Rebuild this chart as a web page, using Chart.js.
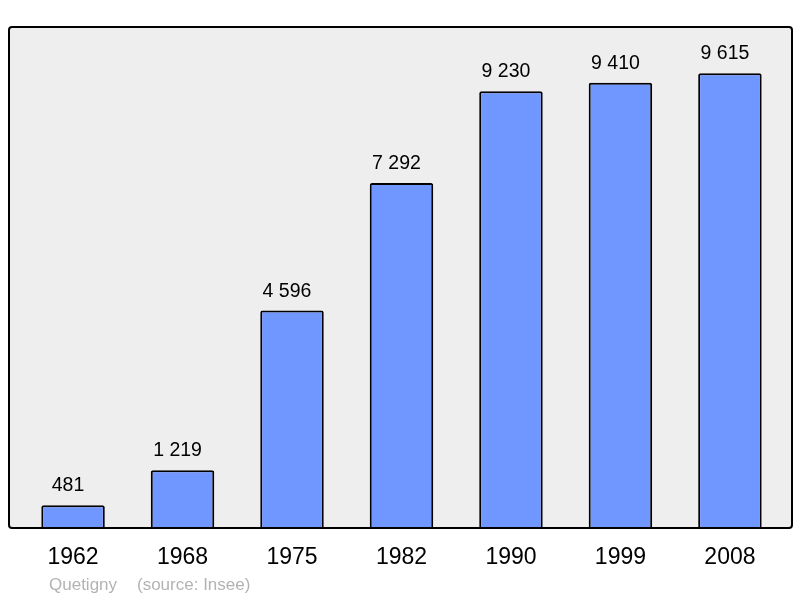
<!DOCTYPE html>
<html><head><meta charset="utf-8">
<script src="https://cdn.jsdelivr.net/npm/chart.js@4/dist/chart.umd.min.js"></script>
<style>html,body{margin:0;padding:0;background:#fff;}#wrap{width:800px;height:598px;position:relative;}</style>
</head><body><div id="wrap"><canvas id="c" width="800" height="598"></canvas></div>
<script>
const years = ["1962","1968","1975","1982","1990","1999","2008"];
const population = [481, 1219, 4596, 7292, 9230, 9410, 9615];
const valueLabels = ["481","1 219","4 596","7 292","9 230","9 410","9 615"];
const footerCommune = "Quetigny";
const footerSource = "(source: Insee)";

const FONT = "'Liberation Sans', Arial, sans-serif";

const bgPlugin = {
  id: 'bg',
  beforeDraw(chart) {
    const {ctx, chartArea: a} = chart;
    ctx.save();
    ctx.fillStyle = '#eeeeee';
    ctx.beginPath();
    ctx.roundRect(a.left, a.top, a.right - a.left, a.bottom - a.top, 3);
    ctx.fill();
    ctx.restore();
  },
  afterDatasetsDraw(chart) {
    const {ctx, chartArea: a} = chart;
    ctx.save();
    ctx.strokeStyle = '#000';
    ctx.lineWidth = 2;
    ctx.beginPath();
    ctx.roundRect(a.left, a.top, a.right - a.left, a.bottom - a.top, 3);
    ctx.stroke();
    const meta = chart.getDatasetMeta(0);
    ctx.fillStyle = '#000';
    ctx.font = '19.5px ' + FONT;
    ctx.textAlign = 'center';
    ctx.textBaseline = 'alphabetic';
    meta.data.forEach((bar, i) => {
      ctx.fillText(valueLabels[i], bar.x - 5, bar.y - 14);
    });
    ctx.fillStyle = '#b3b3b3';
    ctx.font = '17px ' + FONT;
    ctx.textAlign = 'left';
    ctx.fillText(footerCommune, 49, 590);
    ctx.fillText(footerSource, 137, 590);
    ctx.restore();
  }
};

new Chart(document.getElementById('c'), {
  type: 'bar',
  data: {
    datasets: [{
      data: population.map((v, i) => ({x: i, y: v})),
      backgroundColor: '#7096ff',
      borderColor: '#000',
      borderWidth: 2,
      borderSkipped: 'bottom',
      borderRadius: 2,
      categoryPercentage: 1,
      barPercentage: 0.58
    }]
  },
  options: {
    responsive: false,
    animation: false,
    devicePixelRatio: 1,
    layout: {padding: {left: 9, right: 8, top: 27, bottom: 0}},
    plugins: {legend: {display: false}, tooltip: {enabled: false}},
    scales: {
      x: {
        type: 'linear',
        offset: false,
        min: -0.585, max: 6.567,
        grid: {display: false, drawTicks: false, offset: false},
        border: {display: false},
        afterBuildTicks(axis) { axis.ticks = years.map((_, i) => ({value: i})); },
        ticks: {
          autoSkip: false,
          padding: 16,
          color: '#000',
          font: {family: FONT, size: 23},
          callback: (v) => years[v] ?? ''
        },
        afterFit(axis) { axis.height = 70; }
      },
      y: {
        display: false,
        min: 0, max: 10590
      }
    }
  },
  plugins: [bgPlugin]
});
</script></body></html>
